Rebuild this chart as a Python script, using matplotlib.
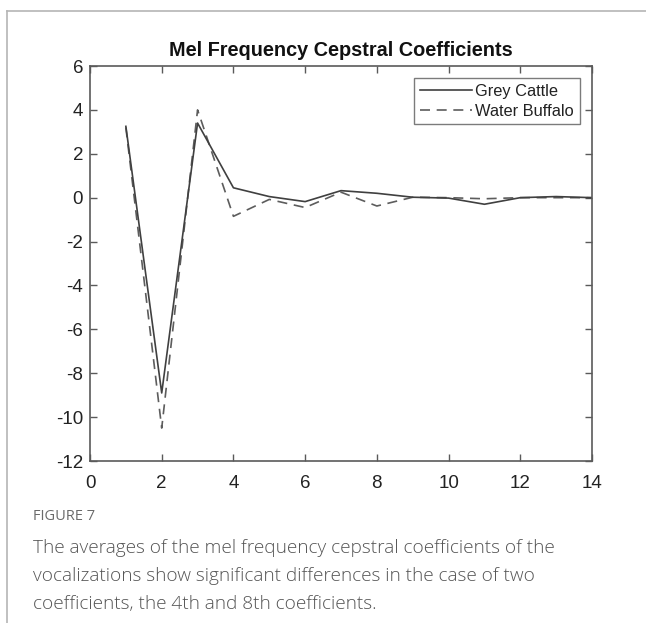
"""Mel frequency cepstral coefficients, grey cattle vs water buffalo"""

import matplotlib.pyplot as plt
from matplotlib.lines import Line2D

COEFFS = list(range(1, 15))
GREY_CATTLE = [3.25, -8.9, 3.4, 0.45, 0.05, -0.18, 0.32, 0.2, 0.02, -0.02, -0.3, 0.0, 0.05, 0.0]
WATER_BUFFALO = [3.2, -10.5, 4.0, -0.85, -0.08, -0.45, 0.25, -0.38, 0.02, 0.0, -0.05, 0.0, 0.0, 0.0]
SERIES_NAMES = ["Grey Cattle", "Water Buffalo"]

TITLE = "Mel Frequency Cepstral Coefficients"
FIG_LABEL = "FIGURE 7"
CAPTION = [
    "The averages of the mel frequency cepstral coefficients of the",
    "vocalizations show significant differences in the case of two",
    "coefficients, the 4th and 8th coefficients.",
]

LINE_COLOR = "#404040"
AXIS_COLOR = "#5a5a5a"
TEXT_COLOR = "#555555"

plt.rcParams["font.family"] = ["Liberation Sans", "DejaVu Sans"]
plt.rcParams["axes.unicode_minus"] = False

fig = plt.figure(figsize=(6.46, 6.23), dpi=100, facecolor="white")

# page frame lines (top and left)
fig.add_artist(Line2D([7 / 646, 1], [1 - 11 / 623, 1 - 11 / 623], color="#b5b5b5", lw=1.2))
fig.add_artist(Line2D([7 / 646, 7 / 646], [0, 1 - 11 / 623], color="#b5b5b5", lw=1.2))

ax = fig.add_axes([90 / 646, 1 - 461 / 623, 502 / 646, 395 / 623])
ax.plot(COEFFS, GREY_CATTLE, color=LINE_COLOR, lw=1.2, ls="-", label=SERIES_NAMES[0])
ax.plot(COEFFS, WATER_BUFFALO, color=LINE_COLOR, lw=1.2, ls=(0, (6, 4)), alpha=0.85,
        label=SERIES_NAMES[1])

ax.set_xlim(0, 14)
ax.set_ylim(-12, 6)
ax.set_xticks(range(0, 15, 2))
ax.set_yticks(range(-12, 7, 2))
ax.tick_params(direction="in", length=5, width=1, color=AXIS_COLOR, top=True, right=True,
               labelsize=13.5, labelcolor="#222222")
ax.tick_params(axis="x", pad=10)
ax.tick_params(axis="y", pad=5)
for spine in ax.spines.values():
    spine.set_color(AXIS_COLOR)
    spine.set_linewidth(1.2)

ax.set_title(TITLE, fontsize=14.3, fontweight="bold", color="#111111", pad=7)

leg = ax.legend(loc="upper right", bbox_to_anchor=(0.976, 0.97), fontsize=11.8,
                frameon=True, fancybox=False, handlelength=3.2, handletextpad=0.2,
                borderpad=0.35, labelspacing=0.3, borderaxespad=0)
leg.get_frame().set_edgecolor(AXIS_COLOR)
leg.get_frame().set_linewidth(1.0)
for t in leg.get_texts():
    t.set_color("#222222")

fig.text(33 / 646, 1 - 517 / 623, FIG_LABEL, fontsize=10.5, color="#6a6a6a",
         family=["Open Sans", "DejaVu Sans"], va="center")
for i, line in enumerate(CAPTION):
    fig.text(33 / 646, 1 - (548 + 28 * i) / 623, line, fontsize=13.7, color=TEXT_COLOR,
             family=["Open Sans", "DejaVu Sans"], weight="light", va="center")

fig.savefig("out.png", dpi=100, facecolor="white")
